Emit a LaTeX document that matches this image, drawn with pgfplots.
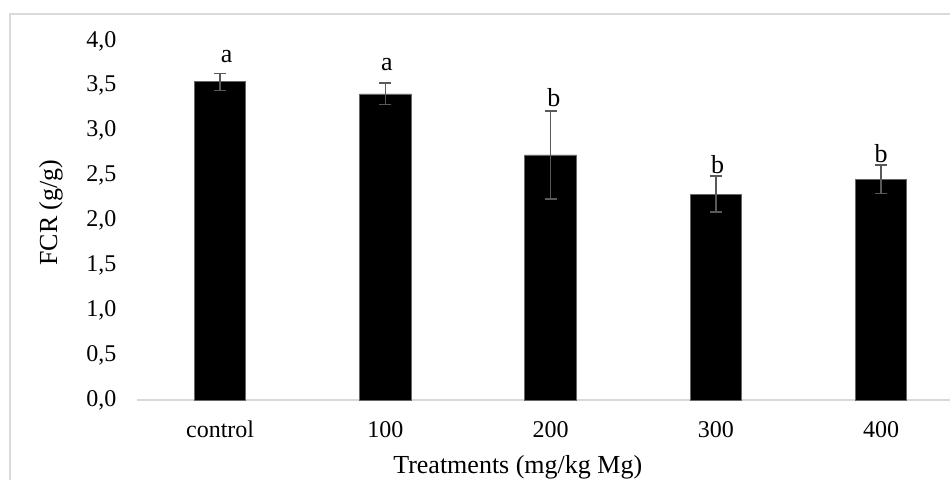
\documentclass[border=0pt]{standalone}
\usepackage{fontspec}
\setmainfont{Liberation Serif}
\usepackage{pgfplots}
\usepackage{pgfplotstable}
\pgfplotsset{compat=1.18}
\definecolor{errgray}{HTML}{595959}
\definecolor{framegray}{HTML}{D9D9D9}
\pgfplotstableread{
x y e
0 3.545 0.095
1 3.41 0.12
2 2.73 0.49
3 2.294 0.20
4 2.458 0.16
}\bars
\pgfplotstableread{
x ly lab
0.04 3.764 a
1.01 3.675 a
2.02 3.266 b
3.01 2.528 b
4.00 2.650 b
}\letters
\begin{document}
\begin{tikzpicture}
\useasboundingbox (0,0) rectangle (475pt,240pt);
\draw[framegray, line width=1pt] (5pt,0pt) -- (5pt,233pt) -- (475pt,233pt);
\begin{axis}[
  at={(68.75pt,40pt)}, anchor=south west,
  scale only axis, width=406.25pt, height=179.5pt,
  xmin=-0.5, xmax=4.417, ymin=0, ymax=4,
  xtick={0,1,2,3,4}, xticklabels={control,100,200,300,400},
  ytick={0,0.5,1,1.5,2,2.5,3,3.5,4},
  axis x line*=bottom, axis y line*=left,
  y axis line style={draw=none},
  x axis line style={draw=framegray, line width=1pt},
  major tick length=0pt, tick style={draw=none},
  ticklabel style={font=\fontsize{12}{14}\selectfont, inner sep=0pt},
  yticklabel style={anchor=east, xshift=-10.4pt,
    /pgf/number format/.cd, use comma, fixed, fixed zerofill, precision=1, assume math mode=true},
  xticklabel style={anchor=base, yshift=-19pt},
  label style={font=\fontsize{13}{15}\selectfont},
  xlabel={Treatments (mg/kg Mg)},
  xlabel style={at={(axis description cs:0.468,-0.1866)}, anchor=center},
  ylabel={FCR (g/g)},
  ylabel style={at={(axis description cs:-0.1065,0.522)}, anchor=center},
  clip=false,
]
\addplot[ybar, bar width=25.75pt, bar shift=0pt, fill=black, draw=black!60,
  error bars/.cd, y dir=both, y explicit,
  error bar style={draw=errgray, line width=0.75pt},
  error mark options={draw=errgray, rotate=90, mark size=3pt, line width=0.75pt}]
  table[x=x, y=y, y error=e]{\bars};
\addplot[draw=none, mark=none, nodes near coords, point meta=explicit symbolic,
  every node near coord/.append style={anchor=base, inner sep=0pt, font=\fontsize{13}{15}\selectfont}]
  table[x=x, y=ly, meta=lab]{\letters};
\end{axis}
\end{tikzpicture}
\end{document}
